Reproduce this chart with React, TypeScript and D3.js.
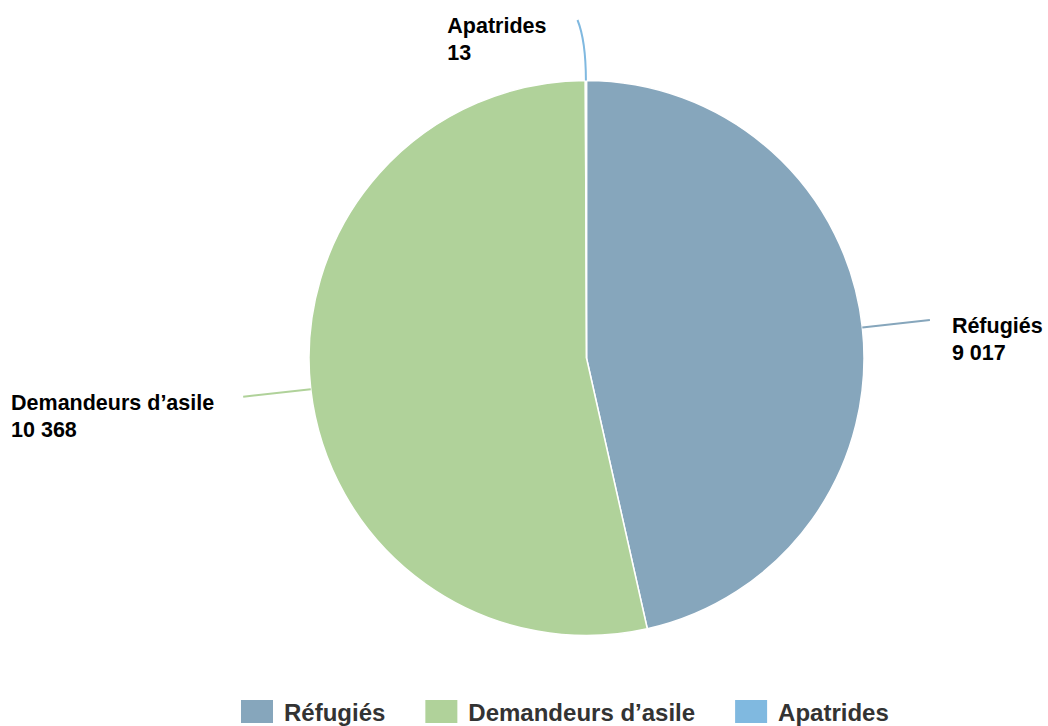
import { arc, pie } from "d3";

const WIDTH = 1048;
const HEIGHT = 726;
const CX = 586.5;
const CY = 358;
const RADIUS = 277.5;

const categories = ["Réfugiés", "Demandeurs d’asile", "Apatrides"];
const values = [9017, 10368, 13];
const valueLabels = ["9 017", "10 368", "13"];
const colors = ["#86a6bc", "#b0d29a", "#80b9e0"];

const FONT = "'Liberation Sans', Arial, Helvetica, sans-serif";
const LABEL_SIZE = 21.5;
const LEGEND_SIZE = 24;

let canvas: HTMLCanvasElement | null = null;
function textWidth(text: string, size: number) {
  if (!canvas) canvas = document.createElement("canvas");
  const ctx = canvas.getContext("2d")!;
  ctx.font = `bold ${size}px ${FONT}`;
  return ctx.measureText(text).width;
}

function polar(r: number, angle: number) {
  return { x: CX + r * Math.sin(angle), y: CY - r * Math.cos(angle) };
}

export default function App() {
  const slices = pie<number>().sort(null).value((d) => d)(values);
  const sliceArc = arc<any>().innerRadius(0).outerRadius(RADIUS);

  // legend layout
  let legendX = 241;
  const legendItems = categories.map((name, i) => {
    const item = { name, i, x: legendX };
    legendX += 32 + 11 + textWidth(name, LEGEND_SIZE) + 40;
    return item;
  });

  return (
    <svg width={WIDTH} height={HEIGHT} style={{ display: "block", position: "absolute", left: 0, top: 0 }}>
      <rect width={WIDTH} height={HEIGHT} fill="#ffffff" />
      <g transform={`translate(${CX},${CY})`}>
        {slices.map((s, i) => (
          <path key={i} d={sliceArc(s) ?? ""} fill={colors[i]} stroke="#ffffff" strokeWidth={1.5} strokeLinejoin="round" />
        ))}
      </g>
      {slices.map((s, i) => {
        const mid = (s.startAngle + s.endAngle) / 2;
        const start = polar(RADIUS, mid);
        const ctrl = polar(RADIUS + 40, mid);
        let end = polar(RADIUS + 68, mid);
        const right = Math.sin(mid) > 0.05;
        let gap = 29;
        if (end.y < 20) {
          end = { x: CX - 9, y: 20 };
          gap = 31;
        }
        const w = Math.max(textWidth(categories[i], LABEL_SIZE), textWidth(valueLabels[i], LABEL_SIZE));
        const tx = right ? end.x + 22 : end.x - gap - w;
        return (
          <g key={i}>
            <path
              d={`M${start.x},${start.y}Q${ctrl.x},${ctrl.y} ${end.x},${end.y}`}
              fill="none"
              stroke={colors[i]}
              strokeWidth={2}
            />
            <text x={tx} y={end.y + 13} fontFamily={FONT} fontWeight="bold" fontSize={LABEL_SIZE} fill="#000000">
              <tspan x={tx}>{categories[i]}</tspan>
              <tspan x={tx} dy={27}>{valueLabels[i]}</tspan>
            </text>
          </g>
        );
      })}
      <g>
        {legendItems.map((it) => (
          <g key={it.i}>
            <rect x={it.x} y={700} width={32} height={23} fill={colors[it.i]} />
            <text x={it.x + 43} y={721} fontFamily={FONT} fontWeight="bold" fontSize={LEGEND_SIZE} fill="#333333">
              {it.name}
            </text>
          </g>
        ))}
      </g>
    </svg>
  );
}
